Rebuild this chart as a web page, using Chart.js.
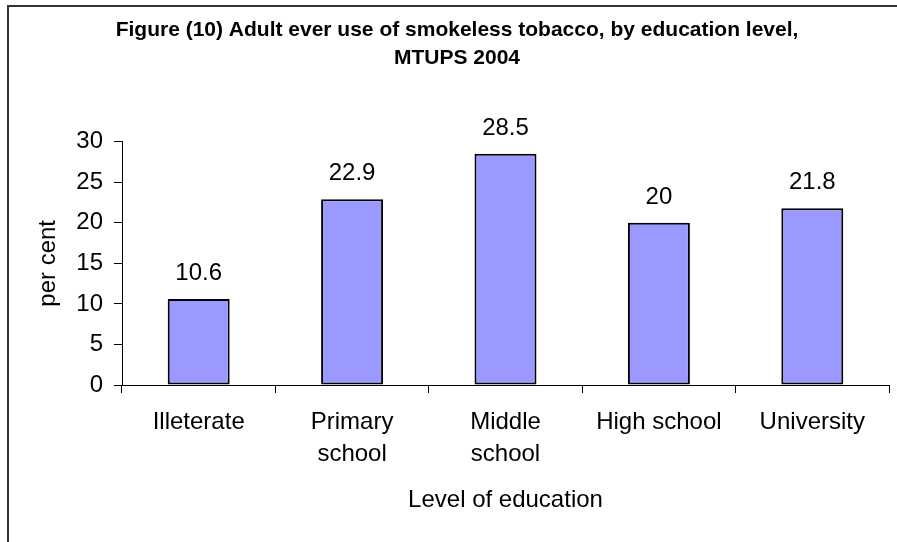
<!DOCTYPE html>
<html>
<head>
<meta charset="utf-8">
<script src="https://cdn.jsdelivr.net/npm/chart.js@4.4.1/dist/chart.umd.min.js"></script>
<style>
  html, body { margin: 0; padding: 0; background: #ffffff; }
  canvas { display: block; }
</style>
</head>
<body>
<canvas id="c" width="897" height="542"></canvas>
<script>
// ---- data ----
const categories = [["Illeterate"], ["Primary", "school"], ["Middle", "school"], ["High school"], ["University"]];
const values = [10.6, 22.9, 28.5, 20, 21.8];
const yTickMin = 0;
const yTickMax = 30;
const yTickStep = 5;
const titleLines = ["Figure (10) Adult ever use of smokeless tobacco, by education level,", "MTUPS 2004"];
const xAxisTitle = "Level of education";
const yAxisTitle = "per cent";

const FONT = "'Liberation Sans', Arial, Helvetica, sans-serif";

const framePlugin = {
  id: 'frame',
  beforeDraw(chart) {
    const ctx = chart.ctx;
    ctx.save();
    ctx.fillStyle = '#ffffff';
    ctx.fillRect(0, 0, chart.width, chart.height);
    ctx.strokeStyle = '#333333';
    ctx.lineWidth = 2;
    ctx.beginPath();
    ctx.moveTo(8, chart.height);
    ctx.lineTo(8, 6);
    ctx.lineTo(chart.width, 6);
    ctx.stroke();
    ctx.restore();
  }
};

const valueLabelPlugin = {
  id: 'valueLabels',
  afterDatasetsDraw(chart) {
    const ctx = chart.ctx;
    ctx.save();
    ctx.font = "24px " + FONT;
    ctx.fillStyle = '#000000';
    ctx.textAlign = 'center';
    ctx.textBaseline = 'alphabetic';
    chart.data.datasets.forEach((ds, di) => {
      const meta = chart.getDatasetMeta(di);
      meta.data.forEach((bar, i) => {
        ctx.fillText(String(ds.data[i]), bar.x, bar.y - 19);
      });
    });
    ctx.restore();
  }
};

new Chart(document.getElementById('c'), {
  type: 'bar',
  data: {
    labels: categories,
    datasets: [{
      data: values,
      backgroundColor: '#9999ff',
      borderColor: '#000000',
      borderWidth: 2,
      borderSkipped: false,
      categoryPercentage: 1.0,
      barPercentage: 0.404
    }]
  },
  options: {
    responsive: false,
    animation: false,
    layout: { padding: { left: 25, right: 8, top: 0, bottom: 0 } },
    plugins: {
      legend: { display: false },
      tooltip: { enabled: false },
      title: {
        display: true,
        text: titleLines,
        color: '#000000',
        font: { family: FONT, size: 21, weight: 'bold', lineHeight: 1.35 },
        padding: { top: 16, bottom: 69 }
      }
    },
    scales: {
      x: {
        afterFit(scale) { scale.height = 157; },
        grid: {
          offset: true,
          drawOnChartArea: false,
          drawTicks: true,
          tickLength: 8,
          color: '#000000',
          lineWidth: 1
        },
        border: { display: true, color: '#000000', width: 1 },
        ticks: {
          color: '#000000',
          font: { family: FONT, size: 24, lineHeight: 1.35 },
          padding: 13,
          maxRotation: 0,
          autoSkip: false
        },
        title: {
          display: true,
          text: xAxisTitle,
          color: '#000000',
          font: { family: FONT, size: 24, lineHeight: 1.2 },
          padding: { top: 0, bottom: 27 }
        }
      },
      y: {
        min: yTickMin,
        max: yTickMax,
        afterFit(scale) { scale.width = 97; },
        grid: {
          drawOnChartArea: false,
          drawTicks: true,
          tickLength: 8,
          color: '#000000',
          lineWidth: 1
        },
        border: { display: true, color: '#000000', width: 1 },
        ticks: {
          stepSize: yTickStep,
          color: '#000000',
          font: { family: FONT, size: 24 },
          padding: 11
        },
        title: {
          display: true,
          text: yAxisTitle,
          color: '#000000',
          font: { family: FONT, size: 24, lineHeight: 1.2 },
          padding: { top: 9, bottom: 0 }
        }
      }
    }
  },
  plugins: [framePlugin, valueLabelPlugin]
});
</script>
</body>
</html>
